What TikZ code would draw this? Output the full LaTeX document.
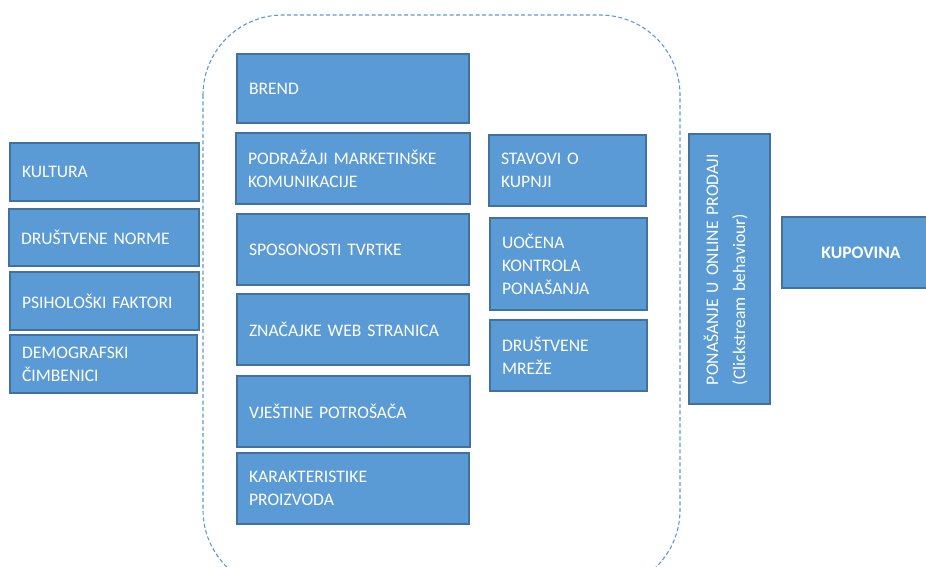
\documentclass[tikz,border=0pt]{standalone}
\usepackage{fontspec}
\setmainfont{Carlito}
\definecolor{fillc}{HTML}{5B9BD5}
\definecolor{bdr}{HTML}{41719C}
\definecolor{dashc}{HTML}{5B9BD5}
\begin{document}
\begin{tikzpicture}[x=1pt,y=-1pt,
  cell/.style={draw=bdr, fill=fillc, line width=1.4pt, text=white,
    font=\fontsize{17.6}{23}\selectfont, align=left, inner xsep=12pt, inner ysep=0pt,
    anchor=center, rectangle},
  group/.style={draw=dashc, line width=1.1pt, dash pattern=on 4pt off 2.5pt, rounded corners=80pt}]
\useasboundingbox (0,0) rectangle (926,567);
\begin{scope}
\clip (0,0) rectangle (926,567);
\draw[group] (203,15) rectangle (680,590);
% left column
\node[cell, minimum width=189, minimum height=58, text width=165] (kultura) at (104.5,172) {KULTURA};
\node[cell, minimum width=190, minimum height=57, text width=166] (norme) at (104,237.5) {DRUŠTVENE NORME};
\node[cell, minimum width=189, minimum height=58, text width=165] (psih) at (104.5,301) {PSIHOLOŠKI FAKTORI};
\node[cell, minimum width=187, minimum height=58, text width=163] (demo) at (103.5,364) {DEMOGRAFSKI\\ČIMBENICI};
% middle column
\node[cell, minimum width=232, minimum height=69, text width=208] (brend) at (353,88.5) {BREND};
\node[cell, minimum width=234, minimum height=71, text width=210] (podr) at (353,168.5) {PODRAŽAJI MARKETINŠKE\\KOMUNIKACIJE};
\node[cell, minimum width=232, minimum height=71, text width=208] (spos) at (353,249.5) {SPOSONOSTI TVRTKE};
\node[cell, minimum width=232, minimum height=71, text width=208] (znac) at (353,329.5) {ZNAČAJKE WEB STRANICA};
\node[cell, minimum width=233, minimum height=71, text width=209] (vjes) at (353.5,411.5) {VJEŠTINE POTROŠAČA};
\node[cell, minimum width=232, minimum height=71, text width=208] (kar) at (353,488.5) {KARAKTERISTIKE\\PROIZVODA};
% third column
\node[cell, minimum width=157, minimum height=71, text width=133] (stav) at (567.5,170.5) {STAVOVI O\\KUPNJI};
\node[cell, minimum width=157, minimum height=92, text width=133] (uoc) at (568.5,264) {UOČENA\\KONTROLA\\PONAŠANJA};
\node[cell, minimum width=157, minimum height=71, text width=133] (drus) at (568.5,355.5) {DRUŠTVENE\\MREŽE};
% vertical box
\node[cell, rotate=90, inner xsep=19pt, minimum width=270, minimum height=81, text width=232, font=\fontsize{17.6}{27}\selectfont] (pon) at (729.5,269) {\mbox{PONAŠANJE U ONLINE PRODAJI}\\\mbox{(Clickstream behaviour)}\rule[-10pt]{0pt}{0pt}};
% kupovina
\node[cell, align=center, minimum width=158, minimum height=71, text width=134, font=\fontsize{17.6}{23}\selectfont\bfseries] (kup) at (861,252.5) {KUPOVINA};
\end{scope}
\end{tikzpicture}
\end{document}
